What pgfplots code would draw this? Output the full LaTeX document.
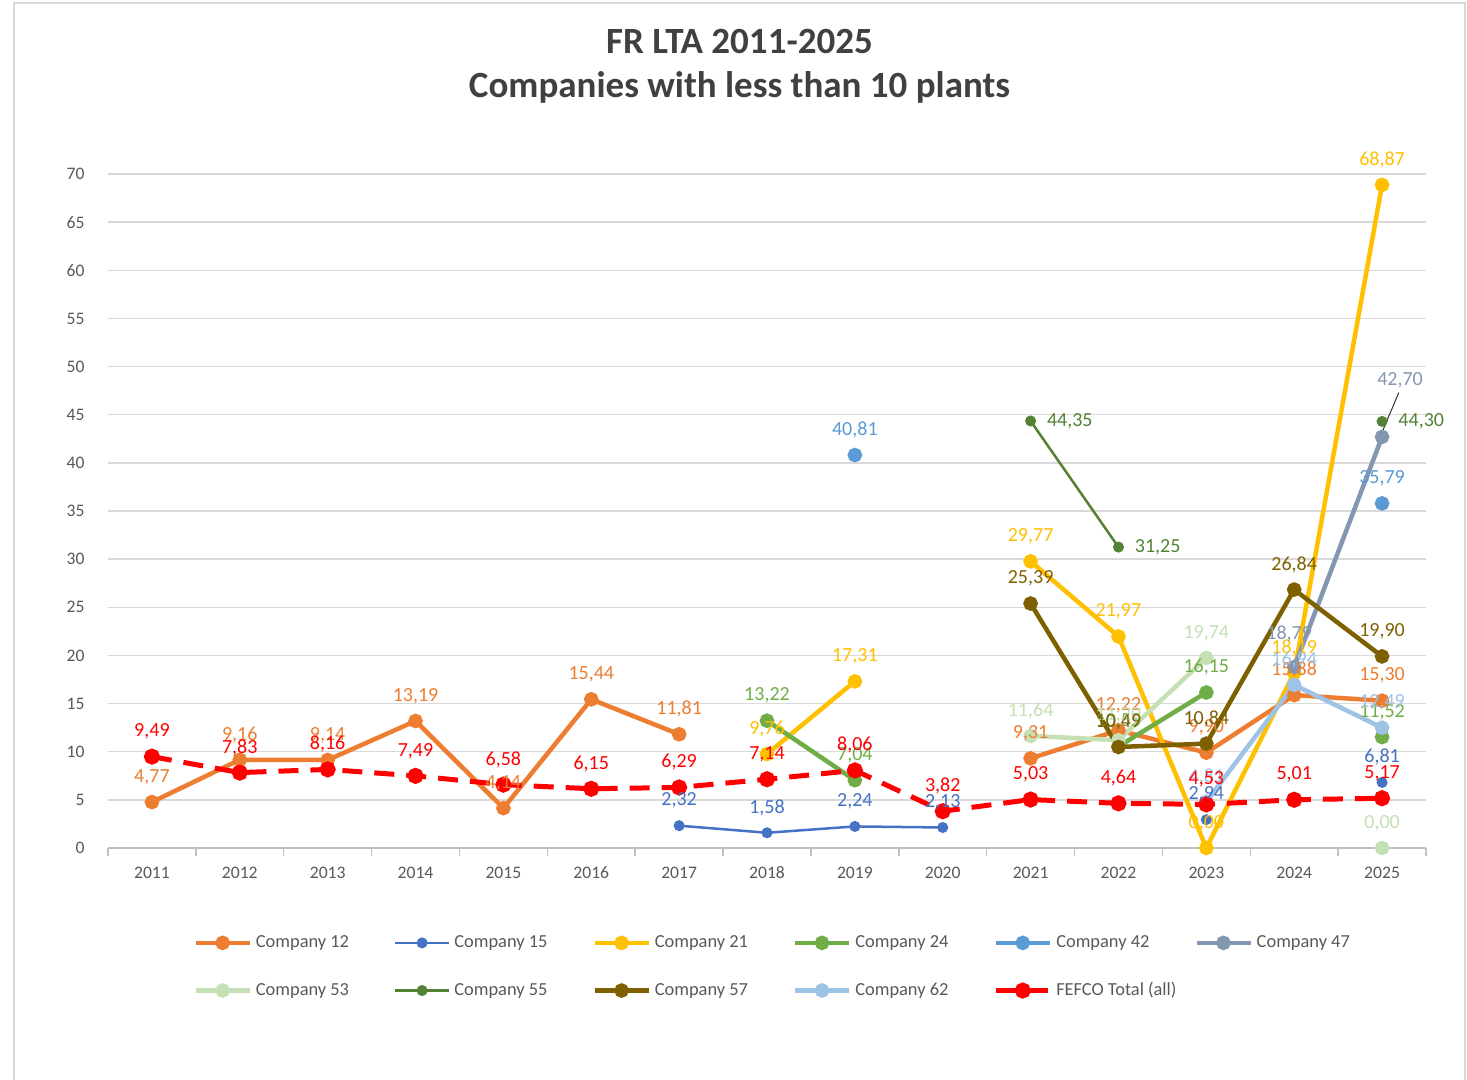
\documentclass[border=0pt]{standalone}
\usepackage{fontspec}
\setmainfont{Carlito}
\usepackage{pgfplots}
\usepackage{pgfplotstable}
\pgfplotsset{compat=1.18}
\definecolor{cA}{HTML}{ED7D31}
\definecolor{cB}{HTML}{4472C4}
\definecolor{cC}{HTML}{FFC000}
\definecolor{cD}{HTML}{70AD47}
\definecolor{cE}{HTML}{5B9BD5}
\definecolor{cF}{HTML}{8497B0}
\definecolor{cG}{HTML}{C5E0B4}
\definecolor{cH}{HTML}{548235}
\definecolor{cI}{HTML}{7F6000}
\definecolor{cJ}{HTML}{9DC3E6}
\definecolor{cR}{HTML}{FF0000}
\definecolor{gridc}{HTML}{D9D9D9}
\definecolor{axisc}{HTML}{BFBFBF}
\definecolor{tickc}{HTML}{595959}
\definecolor{titlec}{HTML}{404040}
\newcommand{\lblfont}{\fontsize{10bp}{12bp}\selectfont}
\newcommand{\tickfont}{\fontsize{8.8bp}{10bp}\selectfont}
\newcommand{\legfont}{\fontsize{9.2bp}{11bp}\selectfont}
\newcommand{\titlefont}{\fontsize{18.5bp}{22bp}\selectfont\bfseries}

\pgfplotstableread{
x y
0 4.77
1 9.16
2 9.14
3 13.19
4 4.14
5 15.44
6 11.81
7 nan
10 9.31
11 12.22
12 9.90
13 15.88
14 15.30
}\tA
\pgfplotstableread{
x y
6 2.32
7 1.58
8 2.24
9 2.13
10 nan
12 2.94
13 nan
14 6.81
}\tB
\pgfplotstableread{
x y
7 9.76
8 17.31
9 nan
10 29.77
11 21.97
12 0.00
13 18.19
14 68.87
}\tC
\pgfplotstableread{
x y
7 13.22
8 7.04
9 nan
11 10.55
12 16.15
13 nan
14 11.52
}\tD
\pgfplotstableread{
x y
8 40.81
11 nan
14 35.79
}\tE
\pgfplotstableread{
x y
13 18.79
14 42.70
}\tF
\pgfplotstableread{
x y
10 11.64
11 11.20
12 19.74
13 nan
14 0.00
}\tG
\pgfplotstableread{
x y
10 44.35
11 31.25
12 nan
14 44.30
}\tH
\pgfplotstableread{
x y
10 25.39
11 10.49
12 10.84
13 26.84
14 19.90
}\tI
\pgfplotstableread{
x y
12 4.81
13 16.94
14 12.49
}\tJ
\pgfplotstableread{
x y
0 9.49
1 7.83
2 8.16
3 7.49
4 6.58
5 6.15
6 6.29
7 7.14
8 8.06
9 3.82
10 5.03
11 4.64
12 4.53
13 5.01
14 5.17
}\tR

\pgfplotsset{
  ser/.style={color=#1, line width=2.25bp, mark=*, mark size=2.5bp, mark options={solid, fill=#1, draw=#1}},
  thinser/.style={color=#1, line width=1.25bp, mark=*, mark size=2.1bp, mark options={solid, fill=#1, draw=#1}},
  lbl/.style={forget plot, draw=none, mark=none,
    nodes near coords={\pgfmathprintnumber[fixed,fixed zerofill,precision=2,use comma]{\pgfplotspointmeta}},
    nodes near coords style={font=\lblfont, text=#1, anchor=center, inner sep=0pt}},
  up/.style={nodes near coords style={yshift=12.5bp}},
}

\begin{document}
\begin{tikzpicture}
\useasboundingbox (0,0) rectangle (733.5bp,540bp);
\fill[white] (0,0) rectangle (733.5bp,540bp);
\draw[line width=0.75bp, gridc] (7bp,-5bp) rectangle (732.5bp,538.5bp);
\node[font=\titlefont, text=titlec] at (369.75bp,519bp) {FR LTA 2011-2025};
\node[font=\titlefont, text=titlec] at (369.75bp,496.5bp) {Companies with less than 10 plants};
\begin{axis}[
  at={(54bp,116bp)}, anchor=south west, scale only axis,
  width=659bp, height=337bp,
  xmin=-0.5, xmax=14.5, ymin=0, ymax=70,
  xtick={0,...,14},
  xticklabels={2011,2012,2013,2014,2015,2016,2017,2018,2019,2020,2021,2022,2023,2024,2025},
  ytick={0,5,...,70},
  minor xtick={-0.5,0.5,...,14.5},
  axis x line*=bottom, axis y line*=left,
  x axis line style={-, line width=0.75bp, draw=axisc},
  y axis line style={draw=none},
  ymajorgrids, grid style={line width=0.75bp, draw=gridc},
  tick align=outside,
  major x tick style={draw=none},
  minor x tick style={draw=axisc, line width=0.75bp},
  minor tick length=4bp,
  ytick style={draw=none},
  ticklabel style={font=\tickfont, text=tickc},
  xticklabel style={yshift=-1bp, text height=6.5bp, text depth=0pt},
  yticklabel style={xshift=-4bp},
  /pgf/number format/assume math mode=true,
  clip=false,
  unbounded coords=jump,
  legend columns=6,
  legend cell align=left,
  legend style={at={(0.0645,-0.1232)}, anchor=north west, draw=none, fill=none,
    font=\legfont, text=tickc, /tikz/column sep=0pt, /tikz/row sep=12bp, inner sep=0pt},
  legend image code/.code={\draw[mark repeat=2,mark phase=2] plot coordinates {(0bp,0bp) (13.5bp,0bp) (27bp,0bp)};},
]
\addplot[ser=cA] table {\tA}; \addlegendentry{\makebox[67bp][l]{Company 12}}
\addplot[thinser=cB] table {\tB}; \addlegendentry{\makebox[67bp][l]{Company 15}}
\addplot[ser=cC] table {\tC}; \addlegendentry{\makebox[67bp][l]{Company 21}}
\addplot[ser=cD] table {\tD}; \addlegendentry{\makebox[67bp][l]{Company 24}}
\addplot[ser=cE] table {\tE}; \addlegendentry{\makebox[67bp][l]{Company 42}}
\addplot[ser=cF] table {\tF}; \addlegendentry{\makebox[67bp][l]{Company 47}}
\addplot[ser=cG] table {\tG}; \addlegendentry{\makebox[67bp][l]{Company 53}}
\addplot[thinser=cH] table {\tH}; \addlegendentry{\makebox[67bp][l]{Company 55}}
\addplot[ser=cI] table {\tI}; \addlegendentry{\makebox[67bp][l]{Company 57}}
\addplot[ser=cJ] table {\tJ}; \addlegendentry{\makebox[67bp][l]{Company 62}}
\addplot[color=cR, line width=2.5bp, dash pattern=on 10bp off 6bp, mark=*, mark size=2.75bp, mark options={solid, fill=cR, draw=cR}] table {\tR}; \addlegendentry{FEFCO Total (all)}
% labels
\addplot[lbl=cA, up] table {\tA};
\addplot[lbl=cB, up] table {\tB};
\addplot[lbl=cC, up] table {\tC};
\addplot[lbl=cD, up] table {\tD};
\addplot[lbl=cE, up] table {\tE};
\addplot[lbl=cF, nodes near coords style={xshift=-2.5bp, yshift=16.5bp}] table[row sep=\\] {x y\\ 13 18.79\\};
\addplot[lbl=cF, nodes near coords style={xshift=9bp, yshift=28.5bp}] table[row sep=\\] {x y\\ 14 42.70\\};
\addplot[lbl=cG, up] table {\tG};
\addplot[lbl=cH, nodes near coords style={anchor=west, xshift=8bp}] table {\tH};
\addplot[lbl=cI, up] table {\tI};
\addplot[lbl=cJ, up] table {\tJ};
\addplot[lbl=cR, up] table {\tR};
\draw[line width=0.5bp, black!80] (axis cs:14.01,43.4) -- (axis cs:14.19,47.3);
\end{axis}
\end{tikzpicture}
\end{document}
